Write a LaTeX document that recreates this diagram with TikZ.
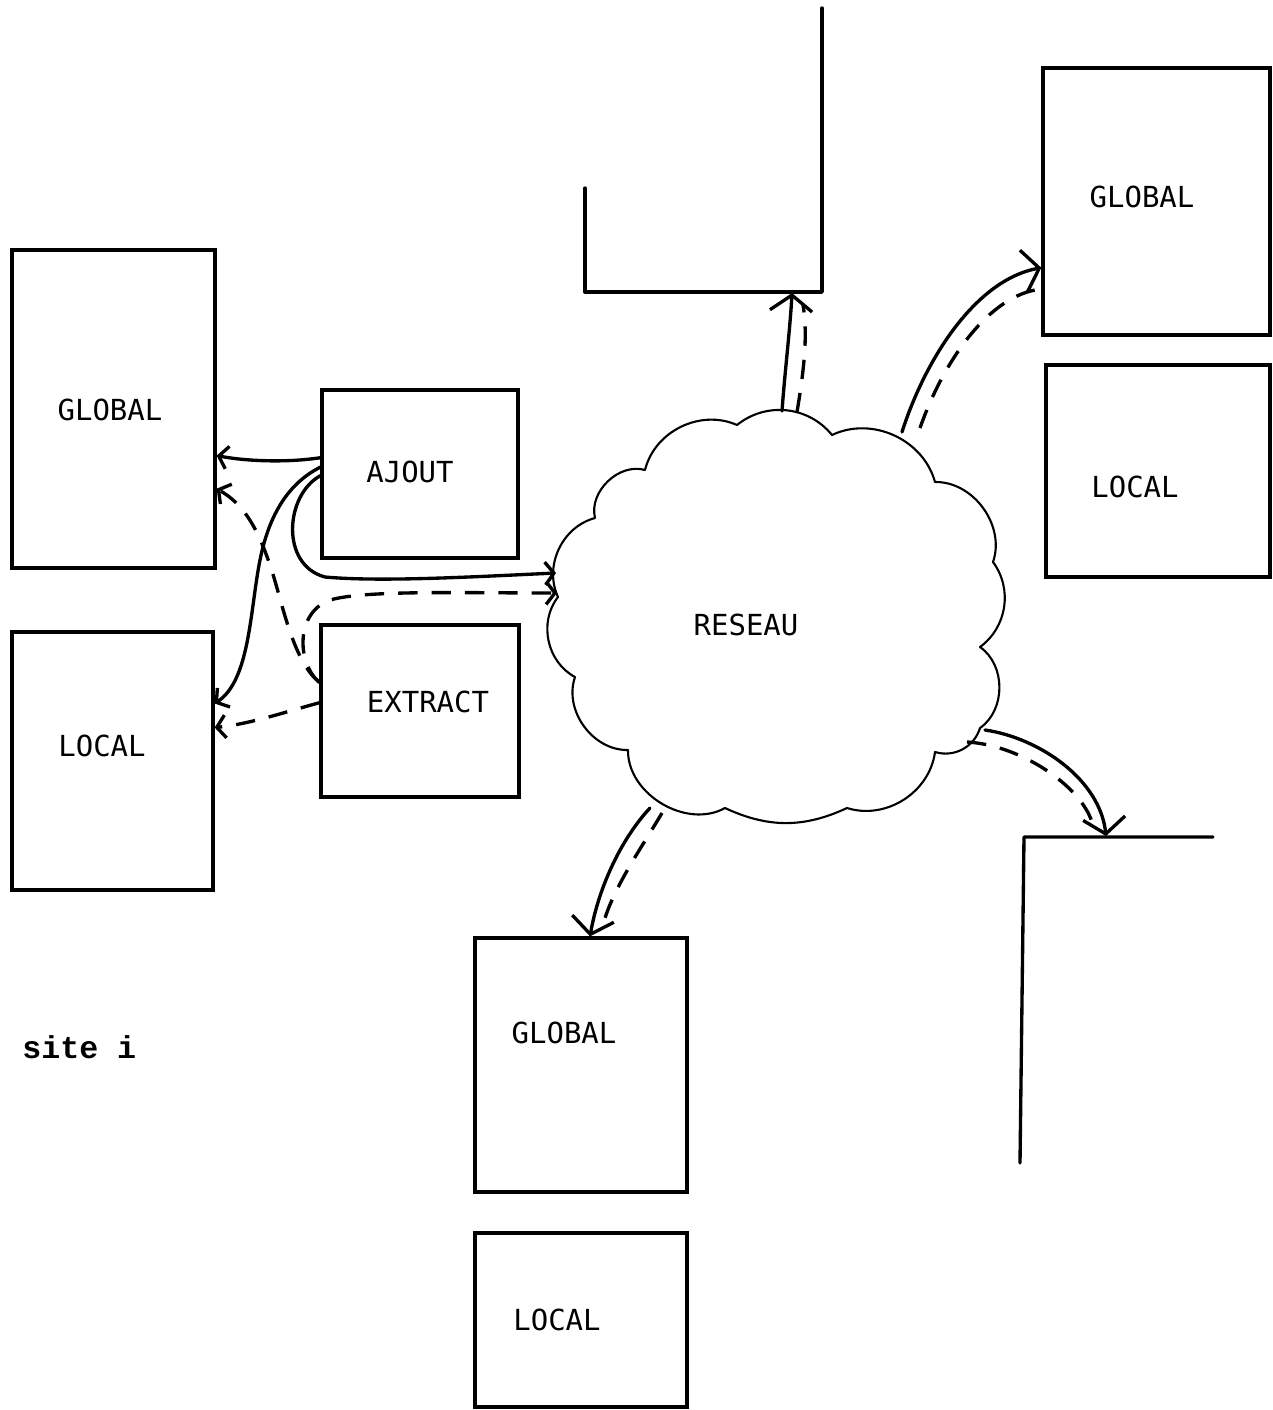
\documentclass[tikz,border=0pt]{standalone}
\usepackage{fontspec}
\newfontfamily\typo{DejaVu Sans Mono}
\newfontfamily\sitefont{Liberation Mono}
\usetikzlibrary{arrows.meta,calc}
\begin{document}
\begin{tikzpicture}[x=0.02cm,y=-0.02cm,
  box/.style={draw,line width=1.9pt,inner sep=0pt},
  lbl/.style={inner sep=0pt,font=\typo\fontsize{16.5pt}{20pt}\selectfont},
  wire/.style={line width=1.9pt,line cap=round},
  dsh/.style={line width=1.9pt,dash pattern=on 11pt off 8pt},
  sm/.style={-{Straight Barb[length=5pt,width=13pt]}},
  big/.style={-{Straight Barb[length=9pt,width=24pt]}},
  cloudline/.style={line width=1.2pt,line join=round,line cap=round}]
\useasboundingbox (0,0) rectangle (1272,1410);

% boxes
\node[box,minimum width=4.06cm,minimum height=6.36cm] (g1) at (113.5,409) {};
\node[box,minimum width=4.02cm,minimum height=5.16cm] (l1) at (112.5,761) {};
\node[box,minimum width=3.92cm,minimum height=3.36cm] (aj) at (420,474) {};
\node[box,minimum width=3.96cm,minimum height=3.44cm] (ex) at (420,711) {};
\node[box,minimum width=4.54cm,minimum height=5.34cm] (g2) at (1156.5,201.5) {};
\node[box,minimum width=4.48cm,minimum height=4.24cm] (l2) at (1158,471) {};
\node[box,minimum width=4.24cm,minimum height=5.08cm] (g3) at (581,1065) {};
\node[box,minimum width=4.24cm,minimum height=3.48cm] (l3) at (581,1320) {};

% partial boxes
\draw[wire,line join=round] (585,188) -- (585,292) -- (822,292) -- (822,8);
\draw[wire,line join=round] (1213,837) -- (1024,837) -- (1020,1163);
\coordinate (tbt) at (792,293);
\coordinate (brt) at (1106,836);

% labels
\node[lbl] (t1) at (110,410) {GLOBAL};
\node[lbl] (t2) at (102,746) {LOCAL};
\node[lbl] (t3) at (410,472) {AJOUT};
\node[lbl] (t4) at (428,702) {EXTRACT};
\node[lbl] (t5) at (746,625) {RESEAU};
\node[lbl] (t6) at (1142,197) {GLOBAL};
\node[lbl] (t7) at (1135,487) {LOCAL};
\node[lbl] (t8) at (564,1033) {GLOBAL};
\node[lbl] (t9) at (557,1320) {LOCAL};
\node[inner sep=0pt,anchor=base west,font=\sitefont\bfseries\fontsize{18pt}{20pt}\selectfont] (site) at (22,1058) {site i};

% cloud
\draw[cloudline] (737,425) to[bend left=45] (832,435) to[bend left=50] (935,482)
  to[bend left=55] (993,562) to[bend left=45] (980,647) to[bend left=55] (980,728)
  to[bend left=45] (935,752) to[bend left=50] (847,808) to[bend left=25] (725,808)
  to[bend left=60] (628,750) to[bend left=55] (575,677) to[bend left=50] (558,597)
  to[bend left=50] (595,518) to[bend left=60] (645,470) to[bend left=50] (737,425);
\coordinate (rin1) at (556,573);
\coordinate (rin2) at (557,593);
\coordinate (ctop) at (782,411);
\coordinate (ctopd) at (797,412);
\coordinate (ctr) at (902,432);
\coordinate (ctrd) at (920,428);
\coordinate (cbl) at (650,808);
\coordinate (cbld) at (662,813);
\coordinate (cbr) at (985,730);
\coordinate (cbrd) at (967,742);
\coordinate (tbd) at (803,305);
\coordinate (g2d) at (1035,290);
\coordinate (g3d) at (603,925);
\coordinate (brd) at (1092,822);

% site-i connectors
\draw[wire,sm] ($(aj.north west)!0.405!(aj.south west)$) .. controls (285,463) and (245,461) .. ($(g1.north east)!0.645!(g1.south east)$);
\draw[wire,sm] ($(aj.north west)!0.46!(aj.south west)$) .. controls (285,485) and (268,520) .. (260,560) .. controls (250,610) and (250,680) .. ($(l1.north east)!0.28!(l1.south east)$);
\draw[wire,sm] ($(aj.north west)!0.51!(aj.south west)$) .. controls (285,495) and (280,565) .. (325,577) .. controls (380,582) and (470,577) .. (rin1);
\draw[dsh,sm] ($(ex.north west)!0.337!(ex.south west)$) .. controls (292,660) and (282,600) .. (270,565) .. controls (258,530) and (245,505) .. ($(g1.north east)!0.748!(g1.south east)$);
\draw[dsh,sm] ($(ex.north west)!0.337!(ex.south west)$) .. controls (296,662) and (296,612) .. (330,600) .. controls (365,590) and (460,593) .. (rin2);
\draw[dsh,sm] ($(ex.north west)!0.453!(ex.south west)$) .. controls (285,712) and (250,724) .. ($(l1.north east)!0.372!(l1.south east)$);

% network connectors
\draw[wire,big] (ctop) .. controls (785,370) and (790,330) .. (tbt);
\draw[dsh] (ctopd) .. controls (804,370) and (808,335) .. (tbd);
\draw[wire,big] (ctr) .. controls (925,360) and (975,280) .. ($(g2.north west)!0.745!(g2.south west)$);
\draw[dsh] (ctrd) .. controls (942,365) and (985,300) .. (g2d);
\draw[wire,big] (cbl) .. controls (620,840) and (598,890) .. ($(g3.north west)!0.542!(g3.north east)$);
\draw[dsh] (cbld) .. controls (640,850) and (612,890) .. (g3d);
\draw[wire,big] (cbr) .. controls (1040,738) and (1100,780) .. (brt);
\draw[dsh] (cbrd) .. controls (1020,745) and (1080,785) .. (brd);
\end{tikzpicture}
\end{document}
